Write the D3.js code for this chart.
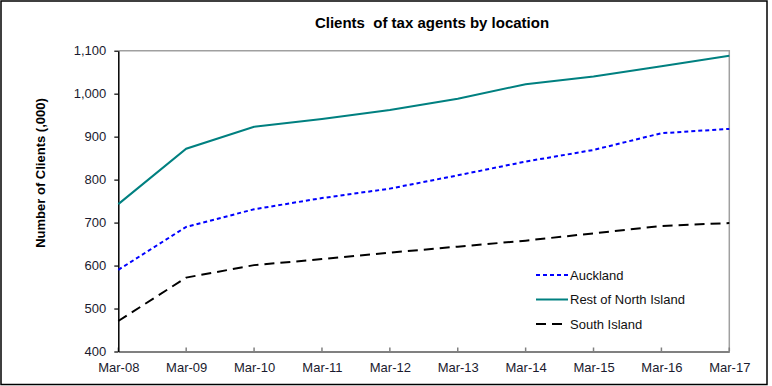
<!DOCTYPE html>
<html>
<head>
<meta charset="utf-8">
<script src="https://cdn.jsdelivr.net/npm/d3@7"></script>
<style>
  body { margin: 0; background: #fff; }
  svg { display: block; font-family: Arial, "Liberation Sans", sans-serif; }
</style>
</head>
<body>
<div id="chart"></div>
<script>
// ============================================================
//  DATA
// ============================================================

const periods = ["Mar-08", "Mar-09", "Mar-10", "Mar-11", "Mar-12", "Mar-13", "Mar-14", "Mar-15", "Mar-16", "Mar-17"];

const auckland = [590, 690, 731, 757, 779, 810, 842, 869, 908, 918];
const restOfNorth = [743, 872, 923, 941, 962, 988, 1022, 1040, 1064, 1088];
const southIsland = [471, 572, 601, 615, 630, 644, 658, 675, 692, 699];

const yTicks = [400, 500, 600, 700, 800, 900, 1000, 1100];

const seriesNames = ["Auckland", "Rest of North Island", "South Island"];

// ============================================================
//  CONFIG
// ============================================================

const CONFIG = {
    WIDTH: 772,
    HEIGHT: 386,
    PLOT: { LEFT: 118.3, RIGHT: 729.3, TOP: 50.7, BOTTOM: 351.5 },
    TITLE: "Clients  of tax agents by location",
    Y_LABEL: "Number of Clients (,000)",
    TICK_FONT: 13,
    STYLES: [
        { color: "#0000ff", dash: "4,3" },
        { color: "#008080", dash: null },
        { color: "#000000", dash: "10,6" },
    ],
};

const series = [auckland, restOfNorth, southIsland].map((values, i) => ({
    name: seriesNames[i],
    values,
    ...CONFIG.STYLES[i],
}));

const svg = d3.select("#chart").append("svg")
    .attr("width", CONFIG.WIDTH)
    .attr("height", CONFIG.HEIGHT);

// outer frame
svg.append("rect")
    .attr("x", 1).attr("y", 1)
    .attr("width", 766).attr("height", 383.5)
    .attr("fill", "#fff")
    .attr("stroke", "#000")
    .attr("stroke-width", 1.5);

// --- Scales ---
const x = d3.scalePoint()
    .domain(periods)
    .range([CONFIG.PLOT.LEFT, CONFIG.PLOT.RIGHT]);

const y = d3.scaleLinear()
    .domain([400, 1100])
    .range([CONFIG.PLOT.BOTTOM, CONFIG.PLOT.TOP]);

// --- Plot frame (top + right in grey) ---
svg.append("path")
    .attr("d", `M${CONFIG.PLOT.LEFT},${CONFIG.PLOT.TOP}H${CONFIG.PLOT.RIGHT}V${CONFIG.PLOT.BOTTOM}`)
    .attr("fill", "none")
    .attr("stroke", "#a0a0a0")
    .attr("stroke-width", 1.5);

// --- Axes ---
const xAxis = svg.append("g")
    .attr("transform", `translate(0, ${CONFIG.PLOT.BOTTOM})`)
    .call(d3.axisBottom(x).tickSize(0).tickPadding(11));
xAxis.select(".domain").attr("stroke", "#808080").attr("stroke-width", 2);
xAxis.selectAll(".tick line").remove();
xAxis.selectAll(".tick text")
    .attr("font-size", CONFIG.TICK_FONT)
    .attr("fill", "#1a1a2e");

// tick marks point up into the plot
svg.append("g").selectAll("line")
    .data(periods)
    .join("line")
    .attr("x1", d => x(d)).attr("x2", d => x(d))
    .attr("y1", CONFIG.PLOT.BOTTOM).attr("y2", CONFIG.PLOT.BOTTOM - 4)
    .attr("stroke", "#808080")
    .attr("stroke-width", 1.5);

const yAxis = svg.append("g")
    .attr("transform", `translate(${CONFIG.PLOT.LEFT}, 0)`)
    .call(d3.axisLeft(y).tickValues(yTicks).tickSize(4).tickSizeOuter(0).tickPadding(8).tickFormat(d3.format(",")));
yAxis.select(".domain").attr("stroke", "#000").attr("stroke-width", 1.5);
yAxis.selectAll(".tick line").attr("stroke", "#000").attr("stroke-width", 1.2);
yAxis.selectAll(".tick text")
    .attr("font-size", CONFIG.TICK_FONT)
    .attr("fill", "#1a1a2e");

// --- Lines ---
const line = d3.line()
    .x((d, i) => x(periods[i]))
    .y(d => y(d));

svg.append("g").selectAll("path")
    .data(series)
    .join("path")
    .attr("d", d => line(d.values))
    .attr("fill", "none")
    .attr("stroke", d => d.color)
    .attr("stroke-width", 2)
    .attr("stroke-dasharray", d => d.dash);

// --- Title ---
svg.append("text")
    .attr("x", 432)
    .attr("y", 28)
    .attr("text-anchor", "middle")
    .attr("font-size", 15)
    .attr("font-weight", "bold")
    .style("white-space", "pre")
    .text(CONFIG.TITLE);

// --- Y label ---
svg.append("text")
    .attr("transform", "translate(45, 173) rotate(-90)")
    .attr("text-anchor", "middle")
    .attr("font-size", 13)
    .attr("font-weight", "bold")
    .text(CONFIG.Y_LABEL);

// --- Legend ---
const legend = svg.append("g")
    .attr("transform", "translate(536, 275)");

const rows = legend.selectAll("g")
    .data(series)
    .join("g")
    .attr("transform", (d, i) => `translate(0, ${i * 24.5})`);

rows.append("line")
    .attr("x1", 0).attr("x2", 32)
    .attr("stroke", d => d.color)
    .attr("stroke-width", 2)
    .attr("stroke-dasharray", d => d.dash);

rows.append("text")
    .attr("x", 34)
    .attr("dy", "0.35em")
    .attr("font-size", 13)
    .attr("fill", "#111")
    .text(d => d.name);
</script>
</body>
</html>
